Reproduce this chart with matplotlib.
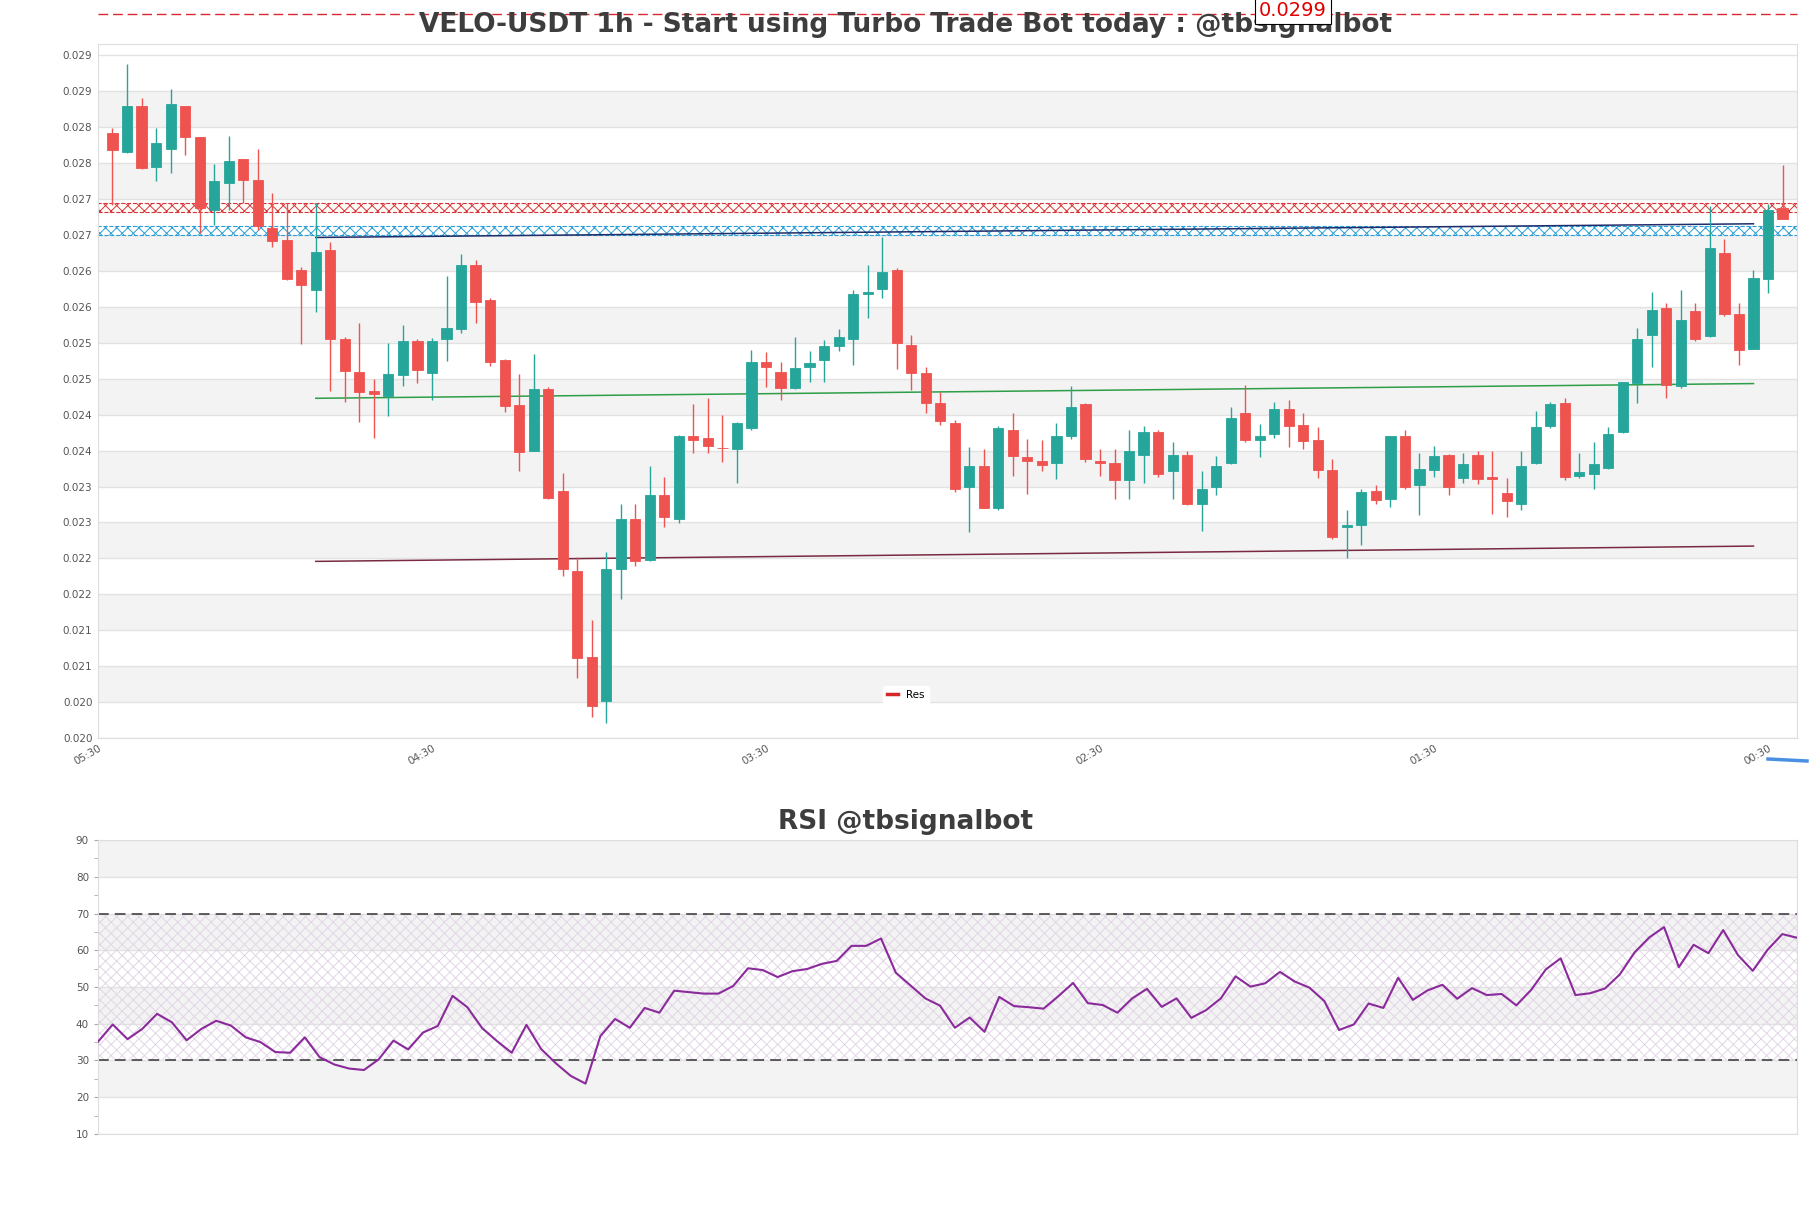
import numpy as np
import matplotlib
matplotlib.use("Agg")
import matplotlib.pyplot as plt
from matplotlib.lines import Line2D

# candles (oldest -> newest)
opens = [0.02842, 0.02816, 0.02880, 0.02795, 0.02820, 0.02879, 0.02836, 0.02735, 0.02773, 0.02806,
         0.02777, 0.02710, 0.02693, 0.02652, 0.02624, 0.02679, 0.02556, 0.02509, 0.02483, 0.02476,
         0.02505, 0.02552, 0.02508, 0.02555, 0.02569, 0.02658, 0.02609, 0.02526, 0.02463, 0.02400,
         0.02486, 0.02344, 0.02233, 0.02113, 0.02051, 0.02235, 0.02305, 0.02248, 0.02338, 0.02305,
         0.02420, 0.02417, 0.02404, 0.02402, 0.02431, 0.02523, 0.02510, 0.02487, 0.02516, 0.02526,
         0.02545, 0.02556, 0.02618, 0.02625, 0.02651, 0.02547, 0.02508, 0.02466, 0.02439, 0.02350,
         0.02378, 0.02320, 0.02429, 0.02391, 0.02385, 0.02383, 0.02421, 0.02465, 0.02386, 0.02383,
         0.02359, 0.02394, 0.02426, 0.02371, 0.02394, 0.02325, 0.02350, 0.02383, 0.02453, 0.02415,
         0.02423, 0.02458, 0.02436, 0.02415, 0.02373, 0.02293, 0.02297, 0.02344, 0.02333, 0.02420,
         0.02352, 0.02373, 0.02394, 0.02362, 0.02394, 0.02363, 0.02341, 0.02325, 0.02383, 0.02434,
         0.02466, 0.02365, 0.02368, 0.02376, 0.02426, 0.02494, 0.02561, 0.02598, 0.02490, 0.02595,
         0.02560, 0.02675, 0.02590, 0.02542, 0.02639, 0.02737]
highs = [0.02849, 0.02938, 0.02891, 0.02849, 0.02904, 0.02880, 0.02837, 0.02799, 0.02838, 0.02806,
         0.02820, 0.02759, 0.02744, 0.02656, 0.02744, 0.02690, 0.02558, 0.02577, 0.02500, 0.02550,
         0.02575, 0.02556, 0.02557, 0.02643, 0.02674, 0.02665, 0.02612, 0.02528, 0.02507, 0.02534,
         0.02488, 0.02369, 0.02252, 0.02164, 0.02259, 0.02326, 0.02325, 0.02379, 0.02363, 0.02422,
         0.02465, 0.02473, 0.02449, 0.02440, 0.02540, 0.02537, 0.02524, 0.02558, 0.02539, 0.02554,
         0.02569, 0.02624, 0.02659, 0.02698, 0.02654, 0.02561, 0.02516, 0.02481, 0.02442, 0.02405,
         0.02402, 0.02434, 0.02453, 0.02416, 0.02415, 0.02439, 0.02490, 0.02466, 0.02402, 0.02402,
         0.02428, 0.02434, 0.02428, 0.02412, 0.02399, 0.02371, 0.02392, 0.02460, 0.02492, 0.02437,
         0.02468, 0.02471, 0.02453, 0.02433, 0.02389, 0.02318, 0.02346, 0.02352, 0.02421, 0.02428,
         0.02397, 0.02407, 0.02395, 0.02397, 0.02400, 0.02400, 0.02362, 0.02400, 0.02455, 0.02468,
         0.02473, 0.02396, 0.02412, 0.02433, 0.02496, 0.02571, 0.02621, 0.02606, 0.02624, 0.02606,
         0.02741, 0.02694, 0.02606, 0.02651, 0.02743, 0.02798]
lows = [0.02742, 0.02814, 0.02792, 0.02775, 0.02787, 0.02811, 0.02703, 0.02714, 0.02735, 0.02744,
        0.02707, 0.02683, 0.02637, 0.02549, 0.02593, 0.02483, 0.02468, 0.02440, 0.02417, 0.02448,
        0.02490, 0.02494, 0.02470, 0.02525, 0.02564, 0.02577, 0.02518, 0.02454, 0.02371, 0.02399,
        0.02333, 0.02226, 0.02083, 0.02029, 0.02021, 0.02194, 0.02240, 0.02246, 0.02293, 0.02299,
        0.02397, 0.02397, 0.02384, 0.02355, 0.02429, 0.02489, 0.02470, 0.02486, 0.02495, 0.02495,
        0.02539, 0.02519, 0.02584, 0.02613, 0.02513, 0.02484, 0.02453, 0.02436, 0.02342, 0.02286,
        0.02320, 0.02318, 0.02365, 0.02339, 0.02371, 0.02360, 0.02416, 0.02384, 0.02365, 0.02333,
        0.02333, 0.02355, 0.02363, 0.02333, 0.02324, 0.02288, 0.02338, 0.02381, 0.02412, 0.02391,
        0.02418, 0.02405, 0.02402, 0.02362, 0.02277, 0.02251, 0.02268, 0.02326, 0.02322, 0.02346,
        0.02310, 0.02363, 0.02338, 0.02355, 0.02354, 0.02312, 0.02307, 0.02318, 0.02381, 0.02431,
        0.02359, 0.02362, 0.02346, 0.02375, 0.02425, 0.02466, 0.02516, 0.02473, 0.02487, 0.02552,
        0.02558, 0.02587, 0.02519, 0.02541, 0.02620, 0.02722]
closes = [0.02819, 0.02880, 0.02793, 0.02828, 0.02883, 0.02836, 0.02737, 0.02775, 0.02803, 0.02777,
          0.02713, 0.02692, 0.02639, 0.02630, 0.02676, 0.02556, 0.02511, 0.02481, 0.02479, 0.02506,
          0.02552, 0.02512, 0.02552, 0.02571, 0.02658, 0.02607, 0.02524, 0.02462, 0.02398, 0.02486,
          0.02334, 0.02235, 0.02112, 0.02044, 0.02235, 0.02305, 0.02246, 0.02338, 0.02307, 0.02421,
          0.02415, 0.02407, 0.02403, 0.02439, 0.02523, 0.02516, 0.02487, 0.02515, 0.02522, 0.02545,
          0.02558, 0.02618, 0.02621, 0.02648, 0.02550, 0.02508, 0.02466, 0.02441, 0.02347, 0.02378,
          0.02320, 0.02431, 0.02392, 0.02386, 0.02380, 0.02421, 0.02460, 0.02389, 0.02383, 0.02359,
          0.02400, 0.02426, 0.02367, 0.02394, 0.02325, 0.02346, 0.02379, 0.02445, 0.02415, 0.02421,
          0.02458, 0.02434, 0.02413, 0.02373, 0.02280, 0.02296, 0.02342, 0.02331, 0.02420, 0.02349,
          0.02375, 0.02392, 0.02350, 0.02381, 0.02360, 0.02360, 0.02330, 0.02378, 0.02433, 0.02465,
          0.02363, 0.02370, 0.02381, 0.02423, 0.02495, 0.02555, 0.02596, 0.02492, 0.02582, 0.02556,
          0.02682, 0.02590, 0.02540, 0.02640, 0.02735, 0.02722]

rsi = [35.1, 39.8, 35.8, 38.6, 42.7, 40.4, 35.5, 38.6, 40.8, 39.5,
       36.3, 35.0, 32.3, 32.1, 36.3, 30.9, 28.9, 27.8, 27.4, 30.3,
       35.4, 33.0, 37.6, 39.4, 47.6, 44.5, 38.8, 35.3, 32.1, 39.7,
       33.1, 29.2, 25.8, 23.7, 36.6, 41.3, 38.9, 44.3, 43.0, 49.0,
       48.6, 48.2, 48.2, 50.3, 55.1, 54.6, 52.7, 54.3, 54.9, 56.3,
       57.1, 61.2, 61.2, 63.2, 53.9, 50.4, 46.9, 44.9, 38.9, 41.7,
       37.8, 47.3, 44.8, 44.5, 44.1, 47.5, 51.1, 45.6, 45.1, 43.0,
       46.9, 49.5, 44.6, 46.9, 41.6, 43.7, 46.9, 52.9, 50.1, 51.0,
       54.1, 51.5, 49.8, 46.2, 38.3, 39.8, 45.5, 44.3, 52.5, 46.5,
       49.1, 50.6, 46.8, 49.7, 47.8, 48.1, 45.0, 49.2, 54.8, 57.8,
       47.8, 48.3, 49.6, 53.4, 59.4, 63.5, 66.3, 55.4, 61.5, 59.2,
       65.5, 58.7, 54.4, 60.1, 64.4, 63.4]

# zones and trend lines
res_zone = [0.027319, 0.027444]
sup_zone = [0.02700, 0.02713]
line_x = [14, 113]
navy_line = [0.026967, 0.027157]
green_line = [0.024728, 0.024933]
maroon_line = [0.022458, 0.022671]
last_price = "0.0299"

xtick_pos = [-1, 22, 45, 68, 91, 114]
xtick_labels = ["05:30", "04:30", "03:30", "02:30", "01:30", "00:30"]
ytick_vals = [0.0200, 0.0205, 0.0210, 0.0215, 0.0220, 0.0225, 0.0230, 0.0235, 0.0240, 0.0245,
              0.0250, 0.0255, 0.0260, 0.0265, 0.0270, 0.0275, 0.0280, 0.0285, 0.0290, 0.0295]
ytick_labels = ["0.020", "0.020", "0.021", "0.021", "0.022", "0.022", "0.023", "0.023", "0.024", "0.024",
                "0.025", "0.025", "0.026", "0.026", "0.027", "0.027", "0.028", "0.028", "0.029", "0.029"]
rsi_ticks = [10, 20, 30, 40, 50, 60, 70, 80, 90]

GREEN = "#26a69a"
RED = "#ef5350"
GRID = "#e2e2e2"
BAND = "#f3f3f3"
TXT = "#555555"

plt.rcParams["hatch.linewidth"] = 0.7

fig = plt.figure(figsize=(18.11, 12.08), dpi=100)
ax = fig.add_axes([0.0541, 0.3891, 0.9382, 0.5745])
ax2 = fig.add_axes([0.0541, 0.0613, 0.9382, 0.2433])

# ---- price chart
o = np.array(opens)
c = np.array(closes)
h = np.array(highs)
l = np.array(lows)
x = np.arange(len(o))
cols = [GREEN if c[i] >= o[i] else RED for i in range(len(o))]

for k in range(1, 19, 2):
    ax.axhspan(ytick_vals[k], ytick_vals[k + 1], color=BAND, lw=0, zorder=0)
for v in ytick_vals:
    ax.axhline(v, color=GRID, lw=1, zorder=0.5)

ax.axhspan(res_zone[0], res_zone[1], facecolor="#fffdf8", edgecolor="#d9343a",
           hatch="xxx", linestyle="--", linewidth=0.8, zorder=1)
ax.axhspan(sup_zone[0], sup_zone[1], facecolor="white", edgecolor="#2a9fd6",
           hatch="xxx", linestyle="--", linewidth=0.8, zorder=1)

ax.plot(line_x, navy_line, color="#1f2d6b", lw=1.1, zorder=2)
ax.plot(line_x, green_line, color="#2e9e48", lw=1.1, zorder=2)
ax.plot(line_x, maroon_line, color="#7a2a40", lw=1.1, zorder=2)

ax.vlines(x, l, h, colors=cols, linewidth=1, zorder=3)
ax.bar(x, np.abs(c - o), bottom=np.minimum(o, c), width=0.7, color=cols,
       edgecolor=cols, linewidth=0.6, zorder=4)

ax.set_xlim(-1, 116)
ax.set_ylim(0.0200, 0.02966)
ax.set_yticks(ytick_vals)
ax.set_yticklabels(ytick_labels)
ax.set_xticks(xtick_pos)
ax.set_xticklabels(xtick_labels, rotation=30, ha="right", va="top", rotation_mode="anchor")
ax.tick_params(axis="both", length=0, labelsize=7.5, labelcolor=TXT, pad=4)
for s in ax.spines.values():
    s.set_color("#dddddd")

# dashed last-price line above the plot
ax.plot([0, 1], [1.0432, 1.0432], transform=ax.transAxes, clip_on=False,
        color="#d9282f", ls=(0, (7, 3.5)), lw=1, zorder=5)

fig.text(0.5, 1 - 32.3 / 1208, "VELO-USDT 1h - Start using Turbo Trade Bot today : @tbsignalbot",
         ha="center", va="baseline", fontsize=19, fontweight="bold", color="#3d3d3d", zorder=6)
fig.text(1293 / 1811, 1 - 16 / 1208, last_price, ha="center", va="baseline", fontsize=14,
         color="#e00000", zorder=7,
         bbox=dict(boxstyle="square,pad=0.2", facecolor="white", edgecolor="black", linewidth=0.8))

res_handle = Line2D([], [], color="#d62728", lw=2.5)
fig.legend(handles=[res_handle], labels=["Res"], loc="center",
           bbox_to_anchor=(906 / 1811, 1 - 695 / 1208), fontsize=7.5, frameon=True,
           facecolor="white", edgecolor="white", framealpha=1, handlelength=1,
           borderpad=0.4, handletextpad=0.8)

# stray blue stroke under the price axis
fig.add_artist(Line2D([1768 / 1811, 1807 / 1811], [1 - 759 / 1208, 1 - 761 / 1208],
                      color="#4a90e2", lw=2.5, transform=fig.transFigure))

# ---- RSI panel
for lo_, hi_ in [(20, 30), (40, 50), (60, 70), (80, 90)]:
    ax2.axhspan(lo_, hi_, color=BAND, lw=0, zorder=0)
for v in rsi_ticks:
    ax2.axhline(v, color=GRID, lw=1, zorder=0.5)
ax2.axhspan(30, 70, facecolor="none", edgecolor="#e2d6e6", hatch="xxx", lw=0, zorder=1)
ax2.axhline(30, color="#333333", ls=(0, (7, 4)), lw=1.1, zorder=2)
ax2.axhline(70, color="#333333", ls=(0, (7, 4)), lw=1.1, zorder=2)
ax2.plot(np.arange(len(rsi)), rsi, color="#8a2a9b", lw=1.5, zorder=3)

ax2.set_xlim(0, len(rsi) - 1)
ax2.set_ylim(10, 90)
ax2.set_yticks(rsi_ticks)
ax2.set_yticks([15, 25, 35, 45, 55, 65, 75, 85], minor=True)
ax2.set_xticks([])
ax2.tick_params(axis="y", which="both", length=3, color="#aaaaaa", labelsize=7.5, labelcolor=TXT)
for s in ax2.spines.values():
    s.set_color("#dddddd")

fig.text(906 / 1811, 1 - 829.3 / 1208, "RSI @tbsignalbot", ha="center", va="baseline",
         fontsize=19, fontweight="bold", color="#3d3d3d")

fig.savefig("out.png", dpi=100)
